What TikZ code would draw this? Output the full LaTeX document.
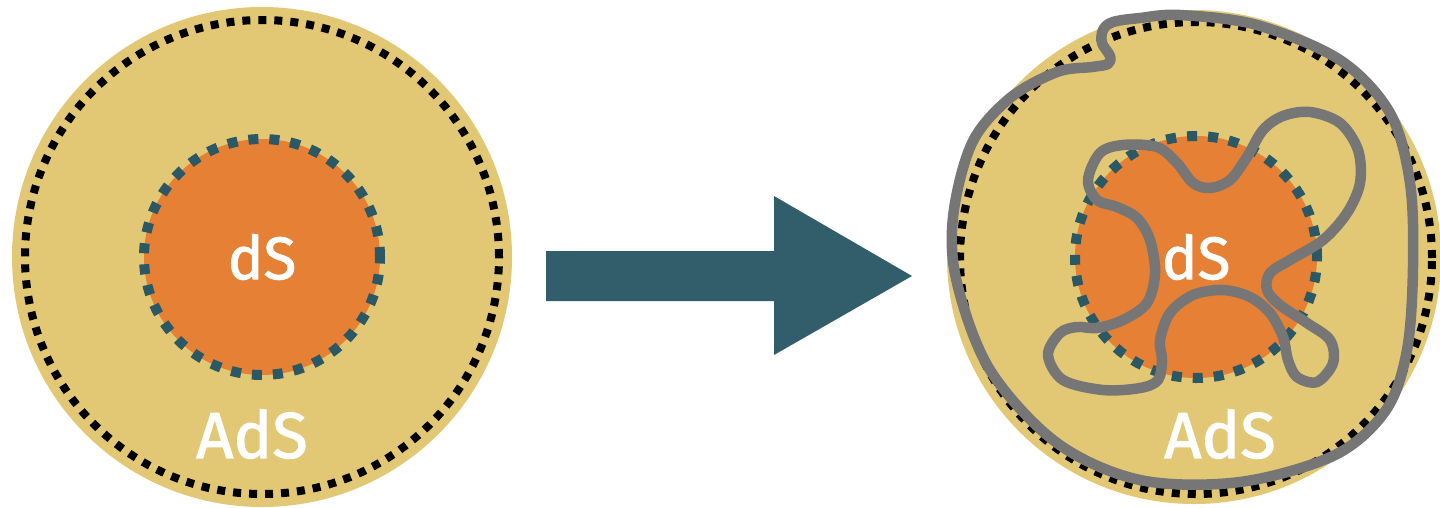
\documentclass[tikz,border=0pt]{standalone}
\usepackage{fontspec}
\setmainfont{Fira Sans}
\newfontfamily\labelfont{Fira Sans}[FakeBold=1.6]
\usepackage{tikz}
\usetikzlibrary{positioning}
\definecolor{adsyellow}{RGB}{226,200,116}
\definecolor{dsorange}{RGB}{229,128,52}
\definecolor{dsteal}{RGB}{42,88,101}
\definecolor{flowteal}{RGB}{50,93,106}
\definecolor{loopgray}{RGB}{118,118,118}

\begin{document}
\begin{tikzpicture}[
    x=1pt, y=-1pt,
    bulk/.style={circle, fill=adsyellow, inner sep=0pt, minimum size=500pt},
    horizon/.style={circle, draw=black, line width=8pt, dash pattern=on 8pt off 8pt, inner sep=0pt, minimum size=474pt},
    patch/.style={circle, fill=dsorange, draw=dsteal, line width=10pt, dash pattern=on 10pt off 11pt, inner sep=0pt, minimum size=236pt, text=white, font=\labelfont\fontsize{60}{60}\selectfont},
    lbl/.style={text=white, font=\labelfont\fontsize{65}{65}\selectfont, inner sep=0pt},
    flow/.style={fill=flowteal},
    string/.style={draw=loopgray, line width=10.5pt, line join=round}
]
\useasboundingbox (0,0) rectangle (1440,507);

\node[bulk] (ads1) at (262,257) {};
\node[horizon] (bd1) at (ads1) {};
\node[patch] (ds1) at (ads1) {dS};
\node[lbl] (adsl1) at (252,434) {AdS};

\node[bulk, minimum size=494pt] (ads2) at (1194,257) {};
\node[horizon, minimum size=472pt] (bd2) at (1196,258) {};
\node[patch, minimum size=242pt] (ds2) at (1196,257) {dS};
\node[lbl] (adsl2) at (1220,434) {AdS};

\fill[flow] (546,251) -- ++(228,0) -- ++(0,-55) -- (912,276) -- (774,355) -- ++(0,-54) -- (546,301) -- cycle;

\draw[string] plot[smooth cycle, tension=0.55] coordinates {
  (1103,30) (1113,22) (1140,18) (1180,15) (1257,25) (1340,60) (1390,113)
  (1410,183) (1413,267) (1407,350) (1386,410) (1335,455) (1240,482)
  (1140,480) (1057,443) (990,370) (957,283) (953,217) (972,143)
  (1010,98) (1057,72) (1092,67) (1108,64) (1110,56) (1102,43)};

\draw[string] plot[smooth cycle, tension=0.55] coordinates {
  (1088,180) (1100,153) (1123,145) (1157,147) (1177,163) (1193,183)
  (1210,188) (1230,180) (1247,157) (1263,130) (1283,116) (1310,112)
  (1340,123) (1358,150) (1360,183) (1347,213) (1323,240) (1290,260)
  (1270,273) (1267,290) (1280,305) (1307,323) (1330,340) (1333,363)
  (1317,382) (1297,377) (1288,360) (1283,337) (1270,313) (1250,297)
  (1223,290) (1193,295) (1170,313) (1160,340) (1162,360) (1158,380)
  (1140,388) (1103,390) (1063,380) (1048,355) (1060,333) (1077,327)
  (1097,328) (1123,320) (1147,303) (1155,273) (1150,240) (1137,218)
  (1117,207) (1097,200)};

\end{tikzpicture}
\end{document}
